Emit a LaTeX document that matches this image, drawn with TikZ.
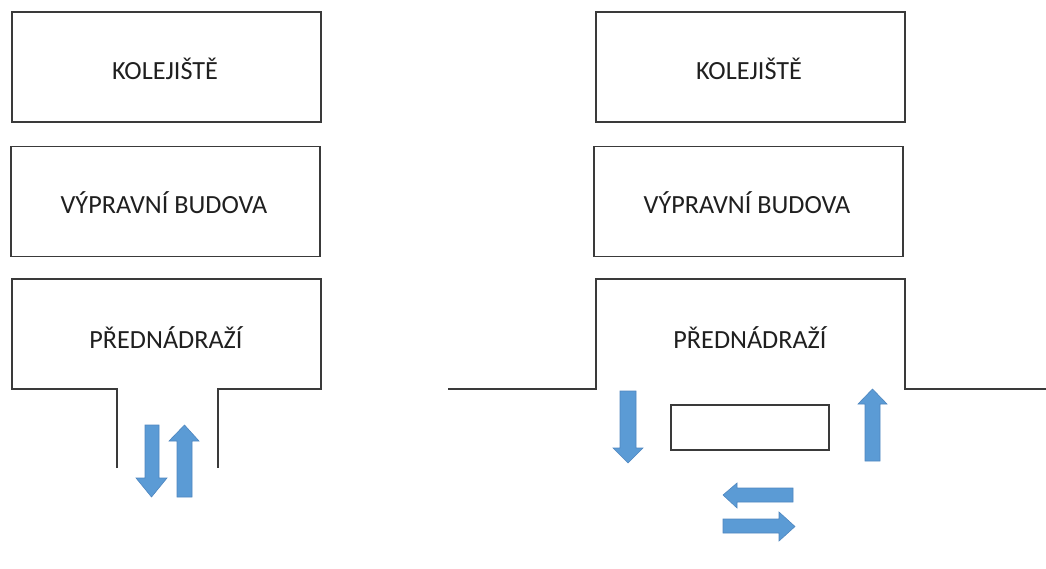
\documentclass[tikz,border=0pt]{standalone}
\usepackage{fontspec}
\setmainfont{Carlito}
\definecolor{linegray}{HTML}{3A3A3A}
\definecolor{arrowblue}{HTML}{5B9BD5}
\definecolor{arrowedge}{HTML}{4F86BF}
\begin{document}
\begin{tikzpicture}[x=1pt,y=-1pt,
  box/.style={draw=linegray,line width=1.3pt,minimum width=309pt,minimum height=110pt,inner sep=0pt},
  lbl/.style={font=\fontsize{26.2}{30}\selectfont,text=black!88,inner sep=0pt},
  outline/.style={draw=linegray,line width=1.3pt},
  barrow/.style={fill=arrowblue,draw=arrowedge,line width=0.6pt,line join=miter}]
\useasboundingbox (0,0) rectangle (1046,568);
% left column
\node[box] (lk) at (166.5,67) {};
\node[lbl] (lkt) at (165,69) {KOLEJIŠTĚ};
\node[box] (lv) at (165.5,201.5) {};
\node[lbl] (lvt) at (164,203) {VÝPRAVNÍ BUDOVA};
\draw[outline] (117,468) -- (117,389) -- (12,389) -- (12,279) -- (321,279) -- (321,389) -- (218,389) -- (218,468);
\node[lbl] (lpt) at (166,338) {PŘEDNÁDRAŽÍ};
% left arrows
\draw[barrow] (145,425) -- (159,425) -- (159,478) -- (167,478) -- (151.5,497) -- (136,478) -- (145,478) -- cycle;
\draw[barrow] (177,497) -- (192,497) -- (192,441) -- (199,441) -- (184.5,425) -- (169,441) -- (177,441) -- cycle;
% right column
\node[box] (rk) at (750.5,67) {};
\node[lbl] (rkt) at (749,69) {KOLEJIŠTĚ};
\node[box] (rv) at (748.5,201.5) {};
\node[lbl] (rvt) at (747,203) {VÝPRAVNÍ BUDOVA};
\draw[outline] (448,389) -- (596,389) -- (596,279) -- (905,279) -- (905,389) -- (1046,389);
\node[lbl] (rpt) at (750,338) {PŘEDNÁDRAŽÍ};
\node[draw=linegray,line width=1.3pt,minimum width=158pt,minimum height=45pt,inner sep=0pt] (island) at (750,427.5) {};
% right arrows
\draw[barrow] (620,391) -- (636,391) -- (636,448) -- (643,448) -- (628,463) -- (613,448) -- (620,448) -- cycle;
\draw[barrow] (865,461) -- (880,461) -- (880,404) -- (887,404) -- (872.5,389) -- (858,404) -- (865,404) -- cycle;
\draw[barrow] (793,488) -- (793,502) -- (737,502) -- (737,508) -- (723,495) -- (737,483) -- (737,488) -- cycle;
\draw[barrow] (723,519) -- (723,533) -- (779,533) -- (779,541) -- (795,526.5) -- (779,512) -- (779,519) -- cycle;
\end{tikzpicture}
\end{document}
